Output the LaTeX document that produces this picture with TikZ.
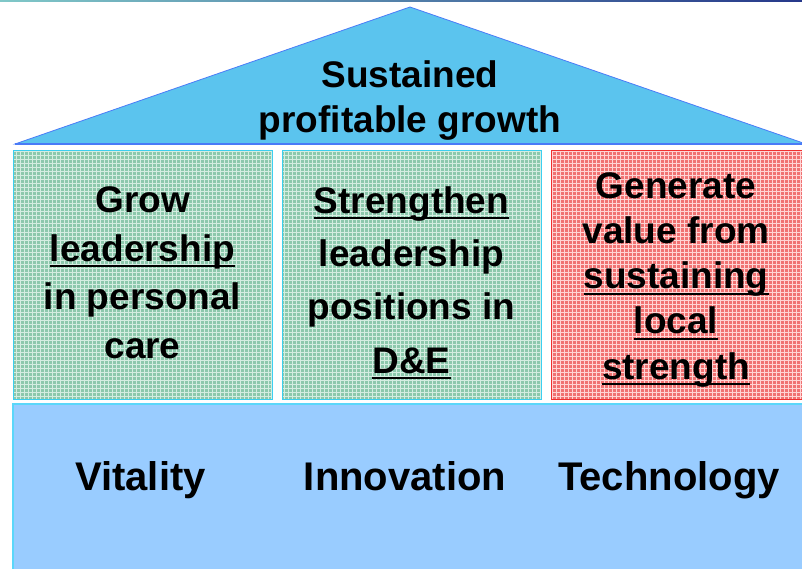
\documentclass[tikz,border=0pt]{standalone}
\usepackage{fontspec}
\setmainfont{Liberation Sans}

\definecolor{roofblue}{HTML}{5BC4EE}
\definecolor{roofline}{HTML}{4A7BF7}
\definecolor{boxline}{HTML}{3CCFF0}
\definecolor{boxgreen}{HTML}{8CC8AC}
\definecolor{gridgreen}{HTML}{D4EDE1}
\definecolor{boxred}{HTML}{F07272}
\definecolor{gridred}{HTML}{FFD4D4}
\definecolor{redline}{HTML}{F03030}
\definecolor{footblue}{HTML}{99CCFF}
\definecolor{footline}{HTML}{5AD7FA}
\definecolor{topteal}{HTML}{80C8C8}
\definecolor{topsky}{HTML}{6CC0EA}
\definecolor{topnavy}{HTML}{26388A}

% underline sitting a little below the baseline
\newsavebox{\ulbox}
\newcommand{\ulword}[1]{\sbox{\ulbox}{#1}\rlap{\rule[-6pt]{\wd\ulbox}{2pt}}\usebox{\ulbox}}

\begin{document}
\begin{tikzpicture}[x=1pt, y=-1pt,
        heading/.style={font=\bfseries\fontsize{37}{45}\selectfont, align=center, anchor=base},
        goal/.style={font=\bfseries\fontsize{37}{#1}\selectfont, align=center, anchor=base},
        pillar/.style={font=\bfseries\fontsize{40}{48}\selectfont, anchor=base}]
        \useasboundingbox (0, 0) rectangle (802, 569);

        \shade[left color=topteal, middle color=topsky, right color=topnavy] (0, 0) rectangle (802, 1.5);

        % roof
        \filldraw[fill=roofblue, draw=roofline, line width=.8pt] (15, 144) -- (410, 7) -- (806, 144) -- cycle;
        \draw[roofline, line width=2.5pt] (15, 144) -- (806, 144);

        % the three goal boxes
        \fill[boxgreen] (13, 151) rectangle (272, 399);
        \draw[gridgreen, line width=1pt, step=4pt] (13, 151) grid (272, 399);
        \draw[boxline, line width=1pt] (13, 151) rectangle (272, 399);

        \fill[boxgreen] (282, 151) rectangle (541, 399);
        \draw[gridgreen, line width=1pt, step=4pt] (282, 151) grid (541, 399);
        \draw[boxline, line width=1pt] (282, 151) rectangle (541, 399);

        \fill[boxred] (551, 151) rectangle (806, 399);
        \draw[gridred, line width=1pt, step=4pt] (551, 151) grid (806, 399);
        \draw[redline, line width=1pt] (551, 151) rectangle (806, 399);

        % foundation
        \filldraw[fill=footblue, draw=footline, line width=1.5pt] (13, 404) rectangle (810, 580);

        % base anchor = baseline of the last line
        \node[heading] (growth) at (410, 133) {Sustained\\profitable growth};

        \node[goal=48.5] (care) at (142.5, 358) {Grow\\\ulword{leadership}\\in personal\\care};
        \node[goal=53.3] (de) at (411.5, 373) {\ulword{Strengthen}\\leadership\\positions in\\\ulword{D\&E}};
        \node[goal=45.2] (local) at (676, 379) {Generate\\value from\\\ulword{sustaining}\\\ulword{local}\\\ulword{strength}};

        \node[pillar] (vitality) at (140.5, 490) {Vitality};
        \node[pillar] (innovation) at (405, 490) {Innovation};
        \node[pillar] (technology) at (669, 490) {Technology};
\end{tikzpicture}
\end{document}
